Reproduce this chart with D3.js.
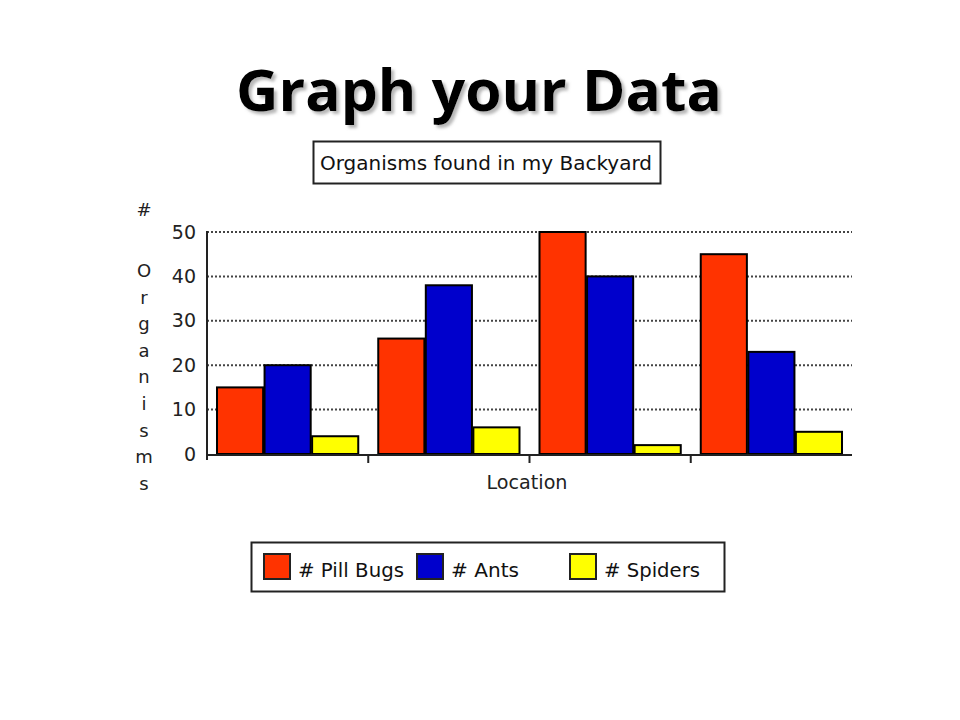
<!DOCTYPE html>
<html><head><meta charset="utf-8">
<script src="https://cdn.jsdelivr.net/npm/d3@7"></script>
<style>body{margin:0;background:#fff}svg{display:block}</style>
</head><body>
<script>
const locations = ["Location 1", "Location 2", "Location 3", "Location 4"];
const seriesNames = ["# Pill Bugs", "# Ants", "# Spiders"];
const pillBugs = [15, 26, 50, 45];
const ants = [20, 38, 40, 23];
const spiders = [4, 6, 2, 5];
const yTicks = [0, 10, 20, 30, 40, 50];
const colors = ["#FF3300", "#0000CC", "#FFFF00"];
const yTitleChars = ["#", "O", "r", "g", "a", "n", "i", "s", "m", "s"];

const series = [pillBugs, ants, spiders];
const W = 960, H = 720;
const svg = d3.select("body").append("svg").attr("width", W).attr("height", H);
const font = "'DejaVu Sans', sans-serif";

const defs = svg.append("defs");
const f = defs.append("filter").attr("id", "shadow").attr("x", "-10%").attr("y", "-20%").attr("width", "130%").attr("height", "150%");
f.append("feDropShadow").attr("dx", 3).attr("dy", 3).attr("stdDeviation", 1.5)
  .attr("flood-color", "#888").attr("flood-opacity", 0.6);

// Main title
svg.append("text").attr("x", 479).attr("y", 111).attr("text-anchor", "middle")
  .attr("font-family", "'Open Sans', sans-serif").attr("font-weight", 700).attr("font-size", 58)
  .attr("fill", "#000").attr("textLength", 486).attr("lengthAdjust", "spacingAndGlyphs")
  .attr("filter", "url(#shadow)").text("Graph your Data");

// Chart title box
svg.append("rect").attr("x", 313.5).attr("y", 141.5).attr("width", 347).attr("height", 42)
  .attr("fill", "#fff").attr("stroke", "#222").attr("stroke-width", 2);
svg.append("text").attr("x", 486).attr("y", 170).attr("text-anchor", "middle")
  .attr("font-family", font).attr("font-size", 19).attr("fill", "#111")
  .attr("textLength", 332).attr("lengthAdjust", "spacingAndGlyphs")
  .text("Organisms found in my Backyard");

const x0 = d3.scaleBand().domain(locations).range([207, 852]).paddingInner(0).paddingOuter(0);
const x1 = d3.scaleBand().domain(seriesNames).range([10, x0.bandwidth() - 10]).paddingInner(0.03);
const y = d3.scaleLinear().domain([0, 50]).range([454, 232]);

// grid
svg.append("g").selectAll("line").data(yTicks.filter(d => d > 0)).join("line")
  .attr("x1", 207).attr("x2", 852).attr("y1", d => y(d)).attr("y2", d => y(d))
  .attr("stroke", "#444").attr("stroke-width", 2).attr("stroke-dasharray", "2,2");

// bars
const groups = svg.append("g").selectAll("g").data(locations).join("g")
  .attr("transform", d => `translate(${x0(d)},0)`);
groups.selectAll("rect").data((d, i) => seriesNames.map((s, j) => ({s, v: series[j][i], c: colors[j]})))
  .join("rect")
  .attr("x", d => x1(d.s)).attr("width", x1.bandwidth())
  .attr("y", d => y(d.v)).attr("height", d => y(0) - y(d.v))
  .attr("fill", d => d.c).attr("stroke", "#000").attr("stroke-width", 2);

// y axis
const yAxis = d3.axisLeft(y).tickValues(yTicks).tickSize(0).tickPadding(11);
const yg = svg.append("g").attr("transform", "translate(207,0)").call(yAxis);
yg.select(".domain").remove();
yg.selectAll("text").attr("font-family", font).attr("font-size", 19).attr("fill", "#222");
svg.append("line").attr("x1", 207).attr("x2", 207).attr("y1", 231).attr("y2", 460)
  .attr("stroke", "#222").attr("stroke-width", 2);

// x axis
svg.append("line").attr("x1", 206).attr("x2", 852).attr("y1", 455).attr("y2", 455)
  .attr("stroke", "#222").attr("stroke-width", 2);
const tickXs = locations.slice(1).map(d => x0(d));
svg.append("g").selectAll("line").data(tickXs).join("line")
  .attr("x1", d => d).attr("x2", d => d).attr("y1", 455).attr("y2", 463)
  .attr("stroke", "#222").attr("stroke-width", 2);
svg.append("text").attr("x", 527).attr("y", 489).attr("text-anchor", "middle")
  .attr("font-family", font).attr("font-size", 19).attr("fill", "#222")
  .attr("textLength", 81).attr("lengthAdjust", "spacingAndGlyphs").text("Location");

// y title stacked
svg.append("g").selectAll("text").data(yTitleChars).join("text")
  .attr("x", 144).attr("y", (d, i) => i === 0 ? 216 : 277 + (i - 1) * 26.6)
  .attr("text-anchor", "middle").attr("font-family", font).attr("font-size", 18).attr("fill", "#222")
  .text(d => d);

// legend
svg.append("rect").attr("x", 251.5).attr("y", 542.5).attr("width", 473).attr("height", 49)
  .attr("fill", "#fff").attr("stroke", "#222").attr("stroke-width", 2);
const legX = [264, 417, 570];
const legW = [106, 68, 96];
const lg = svg.append("g").selectAll("g").data(seriesNames).join("g")
  .attr("transform", (d, i) => `translate(${legX[i]},554)`);
lg.append("rect").attr("width", 26).attr("height", 25).attr("fill", (d, i) => colors[i])
  .attr("stroke", "#222").attr("stroke-width", 2);
lg.append("text").attr("x", 34).attr("y", 23).attr("font-family", font).attr("font-size", 19)
  .attr("fill", "#111").attr("textLength", (d, i) => legW[i]).attr("lengthAdjust", "spacingAndGlyphs")
  .text(d => d);
</script>
</body></html>
